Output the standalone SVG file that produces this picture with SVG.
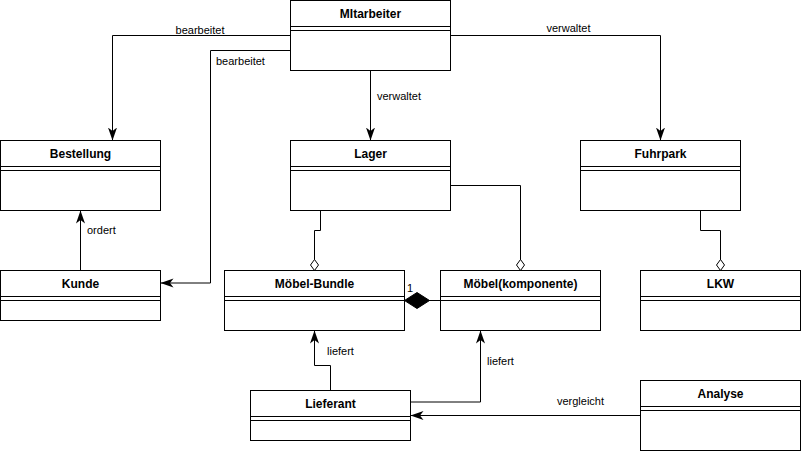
<svg xmlns="http://www.w3.org/2000/svg" width="801" height="451" viewBox="0 0 801 451">
<style>
.box rect{fill:#fff;stroke:#000;stroke-width:1}
.box line{stroke:#000;stroke-width:1}
.title{font-family:"Liberation Sans",Arial,Helvetica,sans-serif;font-size:12px;font-weight:bold;text-anchor:middle;fill:#000}
.edge{fill:none;stroke:#000;stroke-width:1}
.lbl{font-family:"Liberation Sans",Arial,Helvetica,sans-serif;font-size:11px;fill:#000}
</style>
<defs>
<marker id="arrow" viewBox="0 0 14 10" refX="13" refY="5" markerWidth="14" markerHeight="10" markerUnits="userSpaceOnUse" orient="auto">
<path d="M0,0.5 L13,5 L0,9.5 L3.5,5 Z" fill="#000"/>
</marker>
<marker id="odiamond" viewBox="0 0 12 10" refX="11.5" refY="5" markerWidth="12" markerHeight="10" markerUnits="userSpaceOnUse" orient="auto">
<path d="M11.5,5 L6,1 L0.5,5 L6,9 Z" fill="#fff" stroke="#000" stroke-width="1"/>
</marker>
<marker id="fdiamond" viewBox="0 0 26 18" refX="25.5" refY="9" markerWidth="26" markerHeight="18" markerUnits="userSpaceOnUse" orient="auto">
<path d="M25.5,9 L13,1 L0.5,9 L13,17 Z" fill="#000" stroke="#000" stroke-width="1"/>
</marker>
</defs>

<g id="connectors">
<path class="edge" d="M290.5,35.5 H112.5 V140.5" marker-end="url(#arrow)"/>
<path class="edge" d="M290.5,50.5 H210.5 V283 H160.5" marker-end="url(#arrow)"/>
<path class="edge" d="M370.5,70.5 V140.5" marker-end="url(#arrow)"/>
<path class="edge" d="M450.5,35.5 H660.5 V140.5" marker-end="url(#arrow)"/>
<path class="edge" d="M80.5,270.5 V210.5" marker-end="url(#arrow)"/>
<path class="edge" d="M320.5,210.5 V230.5 H314.5 V270.5" marker-end="url(#odiamond)"/>
<path class="edge" d="M450.5,185.5 H520.5 V270.5" marker-end="url(#odiamond)"/>
<path class="edge" d="M700.5,210.5 V230.5 H720.5 V270.5" marker-end="url(#odiamond)"/>
<path class="edge" d="M440.5,300.5 H404.5" marker-end="url(#fdiamond)"/>
<path class="edge" d="M330.5,390.5 V365.5 H314.5 V330.5" marker-end="url(#arrow)"/>
<path class="edge" d="M410.5,402 H480.5 V330.5" marker-end="url(#arrow)"/>
<path class="edge" d="M640.5,415.5 H410.5" marker-end="url(#arrow)"/>
<text class="lbl" x="200" y="34" text-anchor="middle">bearbeitet</text>
<text class="lbl" x="216" y="65">bearbeitet</text>
<text class="lbl" x="377" y="100">verwaltet</text>
<text class="lbl" x="568.5" y="31.5" text-anchor="middle">verwaltet</text>
<text class="lbl" x="87" y="234">ordert</text>
<text class="lbl" x="407" y="292">1</text>
<text class="lbl" x="327" y="354.5">liefert</text>
<text class="lbl" x="487" y="364.5">liefert</text>
<text class="lbl" x="580.5" y="404.5" text-anchor="middle">vergleicht</text>
</g>

<g id="mitarbeiter" class="box">
<rect x="290.5" y="0.5" width="160" height="70"/>
<line x1="290.5" y1="26.5" x2="450.5" y2="26.5"/>
<line x1="290.5" y1="30.5" x2="450.5" y2="30.5"/>
<text class="title" x="370.5" y="18">MItarbeiter</text>
</g>
<g id="bestellung" class="box">
<rect x="0.5" y="140.5" width="160" height="70"/>
<line x1="0.5" y1="166.5" x2="160.5" y2="166.5"/>
<line x1="0.5" y1="170.5" x2="160.5" y2="170.5"/>
<text class="title" x="80.5" y="158">Bestellung</text>
</g>
<g id="lager" class="box">
<rect x="290.5" y="140.5" width="160" height="70"/>
<line x1="290.5" y1="166.5" x2="450.5" y2="166.5"/>
<line x1="290.5" y1="170.5" x2="450.5" y2="170.5"/>
<text class="title" x="370.5" y="158">Lager</text>
</g>
<g id="fuhrpark" class="box">
<rect x="580.5" y="140.5" width="160" height="70"/>
<line x1="580.5" y1="166.5" x2="740.5" y2="166.5"/>
<line x1="580.5" y1="170.5" x2="740.5" y2="170.5"/>
<text class="title" x="660.5" y="158">Fuhrpark</text>
</g>
<g id="kunde" class="box">
<rect x="0.5" y="270.5" width="160" height="50"/>
<line x1="0.5" y1="296.5" x2="160.5" y2="296.5"/>
<line x1="0.5" y1="300.5" x2="160.5" y2="300.5"/>
<text class="title" x="80.5" y="288">Kunde</text>
</g>
<g id="moebel-bundle" class="box">
<rect x="224.5" y="270.5" width="180" height="60"/>
<line x1="224.5" y1="296.5" x2="404.5" y2="296.5"/>
<line x1="224.5" y1="300.5" x2="404.5" y2="300.5"/>
<text class="title" x="314.5" y="288">Möbel-Bundle</text>
</g>
<g id="moebel-komponente" class="box">
<rect x="440.5" y="270.5" width="160" height="60"/>
<line x1="440.5" y1="296.5" x2="600.5" y2="296.5"/>
<line x1="440.5" y1="300.5" x2="600.5" y2="300.5"/>
<text class="title" x="520.5" y="288">Möbel(komponente)</text>
</g>
<g id="lkw" class="box">
<rect x="640.5" y="270.5" width="160" height="60"/>
<line x1="640.5" y1="296.5" x2="800.5" y2="296.5"/>
<line x1="640.5" y1="300.5" x2="800.5" y2="300.5"/>
<text class="title" x="720.5" y="288">LKW</text>
</g>
<g id="lieferant" class="box">
<rect x="250.5" y="390.5" width="160" height="50"/>
<line x1="250.5" y1="416.5" x2="410.5" y2="416.5"/>
<line x1="250.5" y1="420.5" x2="410.5" y2="420.5"/>
<text class="title" x="330.5" y="408">Lieferant</text>
</g>
<g id="analyse" class="box">
<rect x="640.5" y="380.5" width="160" height="70"/>
<line x1="640.5" y1="406.5" x2="800.5" y2="406.5"/>
<line x1="640.5" y1="410.5" x2="800.5" y2="410.5"/>
<text class="title" x="720.5" y="398">Analyse</text>
</g>
</svg>
